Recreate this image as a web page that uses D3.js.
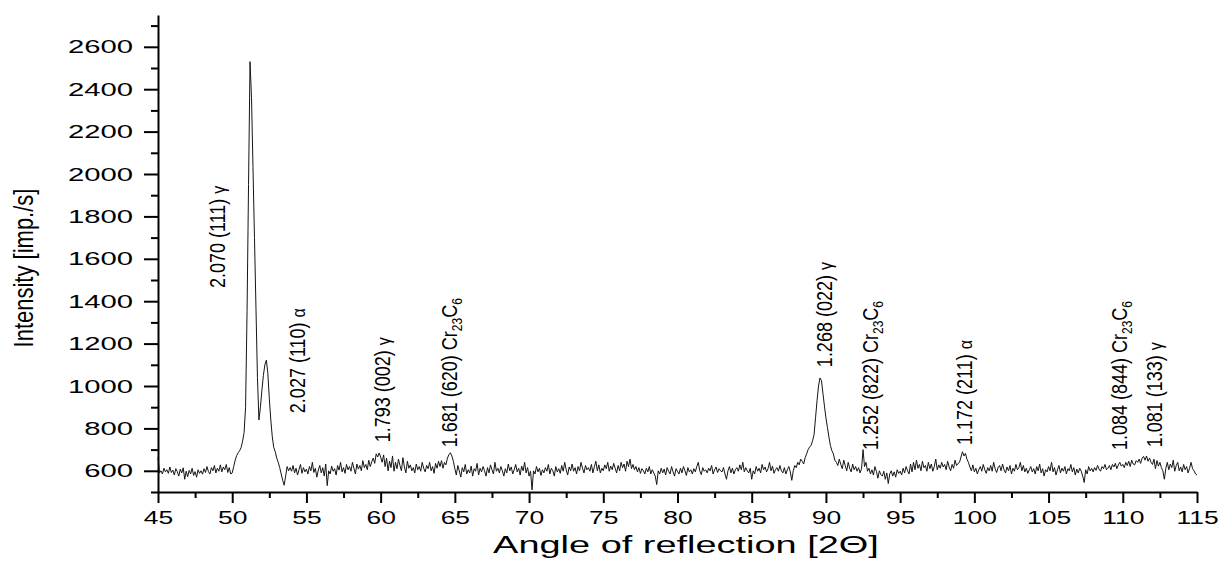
<!DOCTYPE html>
<html>
<head>
<meta charset="utf-8">
<script src="https://cdn.jsdelivr.net/npm/d3@7"></script>
<style>
body { margin: 0; background: #fff; }
text { font-family: "Liberation Sans", Arial, sans-serif; fill: #000; }
</style>
</head>
<body>
<div id="chart"></div>
<script>
// diffraction pattern, one reading every 0.1 deg from 45 to 115
const angleStart = 45
const angleStep = 0.1
const intensity = [
  665, 590, 600, 585, 612, 595, 605, 588, 618, 592,
  603, 580, 610, 596, 575, 608, 590, 614, 560, 598,
  572, 602, 585, 612, 578, 596, 570, 605, 588, 600,
  584, 610, 592, 620, 596, 585, 615, 600, 625, 590,
  612, 598, 628, 595, 618, 605, 630, 592, 615, 585,
  590, 620, 650, 672, 685, 695, 710, 740, 780, 900,
  1350, 1950, 2530, 2360, 2030, 1700, 1370, 1040, 840, 900,
  980, 1050, 1100, 1122, 1060, 940, 840, 760, 710, 690,
  660, 640, 615, 585, 555, 532, 575, 620, 600, 615,
  598, 625, 590, 612, 580, 605, 630, 588, 615, 595,
  608, 585, 620, 600, 640, 592, 612, 570, 603, 625,
  590, 615, 575, 632, 530, 600, 585, 622, 598, 610,
  580, 625, 603, 640, 595, 615, 588, 630, 605, 620,
  598, 640, 612, 585, 632, 608, 625, 600, 648, 615,
  630, 605, 650, 620, 642, 660, 635, 680, 665, 684,
  665, 640, 675, 620, 660, 600, 645, 615, 670, 598,
  640, 610, 655, 625, 600, 662, 618, 590, 645, 612,
  628, 600, 615, 590, 632, 605, 620, 598, 640, 612,
  595, 625, 610, 640, 600, 620, 588, 635, 612, 645,
  620, 648, 612, 640, 628, 660, 676, 685, 670, 645,
  610, 580, 625, 600, 570, 615, 595, 630, 585, 605,
  590, 622, 575, 610, 598, 635, 580, 612, 595, 620,
  600, 575, 615, 590, 628, 605, 585, 640, 598, 612,
  590, 620, 600, 575, 610, 590, 632, 600, 618, 585,
  605, 630, 595, 612, 580, 622, 600, 640, 590, 615,
  575, 598, 510, 600, 585, 620, 595, 612, 578, 605,
  590, 615, 598, 630, 585, 612, 600, 575, 620, 595,
  610, 588, 625, 598, 640, 605, 580, 618, 600, 632,
  598, 615, 585, 620, 600, 640, 612, 590, 625, 605,
  615, 598, 630, 590, 620, 645, 600, 628, 590, 612,
  600, 628, 610, 640, 598, 622, 605, 635, 612, 590,
  625, 600, 640, 615, 632, 598, 645, 620, 655, 610,
  630, 605, 620, 595, 615, 588, 610, 600, 585, 612,
  595, 620, 585, 605, 590, 575, 535, 600, 585, 612,
  590, 608, 580, 615, 598, 585, 620, 595, 575, 610,
  598, 585, 612, 590, 620, 600, 578, 615, 595, 605,
  585, 610, 595, 620, 640, 600, 582, 615, 598, 605,
  590, 612, 600, 625, 585, 605, 618, 592, 610, 600,
  595, 615, 585, 560, 600, 620, 590, 612, 585, 605,
  615, 598, 628, 605, 640, 595, 615, 600, 590, 612,
  560, 600, 585, 620, 598, 612, 590, 630, 605, 618,
  595, 610, 640, 600, 622, 588, 605, 615, 598, 625,
  600, 590, 615, 585, 605, 620, 595, 555, 600, 625,
  615, 640, 628, 655, 645, 632, 662, 680, 700, 712,
  720, 742, 770, 850, 930, 1000, 1038, 1025, 965, 905,
  850, 805, 760, 720, 695, 680, 650, 640, 625, 655,
  630, 610, 650, 625, 600, 640, 612, 595, 632, 605,
  620, 598, 615, 590, 610, 700, 620, 640, 598, 612,
  585, 605, 580, 620, 598, 565, 600, 582, 575, 598,
  560, 590, 540, 585, 600, 575, 595, 570, 605, 588,
  598, 580, 612, 590, 620, 600, 585, 632, 595, 640,
  605, 650, 612, 630, 600, 645, 615, 625, 598, 640,
  610, 632, 598, 620, 655, 605, 628, 612, 640, 618,
  630, 605, 645, 618, 600, 630, 612, 650, 625, 635,
  640, 665, 690, 670, 682, 655, 640, 618, 600, 628,
  595, 612, 585, 605, 620, 598, 630, 605, 588, 615,
  600, 625, 598, 640, 610, 592, 615, 625, 600, 632,
  605, 590, 618, 600, 625, 585, 612, 598, 630, 605,
  615, 640, 600, 625, 595, 612, 588, 605, 620, 595,
  610, 585, 620, 600, 632, 590, 610, 575, 605, 595,
  620, 600, 640, 595, 615, 580, 605, 625, 590, 612,
  598, 620, 585, 610, 600, 630, 595, 615, 580, 608,
  590, 612, 598, 575, 545, 605, 585, 620, 600, 612,
  595, 615, 602, 625, 608, 598, 620, 610, 630, 605,
  612, 625, 605, 630, 618, 635, 610, 628, 640, 622,
  630, 615, 640, 625, 645, 620, 650, 632, 628, 648,
  640, 655, 635, 660, 668, 650, 670, 645, 660, 640,
  630, 655, 610, 648, 622, 640, 615, 600, 560, 612,
  640, 605, 632, 615, 650, 598, 625, 640, 600, 618,
  595, 630, 605, 620, 590, 612, 640, 610, 600, 585,
  580
]

const xTicks = [45, 50, 55, 60, 65, 70, 75, 80, 85, 90, 95, 100, 105, 110, 115]
const xMinorTicks = [47.5, 52.5, 57.5, 62.5, 67.5, 72.5, 77.5, 82.5, 87.5, 92.5, 97.5, 102.5, 107.5, 112.5]
const yTicks = [600, 800, 1000, 1200, 1400, 1600, 1800, 2000, 2200, 2400, 2600]
const yMinorTicks = [500, 700, 900, 1100, 1300, 1500, 1700, 1900, 2100, 2300, 2500, 2700]

// d-spacing (hkl) phase, placed at angle / intensity of the label foot
const peakLabels = [
  { text: "2.070 (111) ", phase: "γ", angle: 49.49, intensity: 1462 },
  { text: "2.027 (110) ", phase: "α", angle: 54.88, intensity: 872 },
  { text: "1.793 (002) ", phase: "γ", angle: 60.61, intensity: 735 },
  { text: "1.681 (620) ", phase: "Cr23C6", angle: 65.13, intensity: 711 },
  { text: "1.268 (022) ", phase: "γ", angle: 90.39, intensity: 1089 },
  { text: "1.252 (822) ", phase: "Cr23C6", angle: 93.49, intensity: 698 },
  { text: "1.172 (211) ", phase: "α", angle: 99.83, intensity: 722 },
  { text: "1.084 (844) ", phase: "Cr23C6", angle: 110.27, intensity: 698 },
  { text: "1.081 (133) ", phase: "γ", angle: 112.63, intensity: 711 }
]

const data = intensity.map((v, i) => ({ angle: angleStart + i * angleStep, value: v }))

const width = 1222
const height = 562

const x = d3.scaleLinear()
    .domain([45, 115])
    .range([158, 1197])

const y = d3.scaleLinear()
    .domain([500, 2750])
    .range([492, 15])

const svg = d3.select("#chart")
    .append("svg")
    .attr("width", width)
    .attr("height", height)

const line = d3.line()
    .x(d => x(d.angle))
    .y(d => y(d.value))

svg.append("path")
    .datum(data)
    .attr("fill", "none")
    .attr("stroke", "#151515")
    .attr("stroke-width", 1)
    .attr("stroke-linejoin", "round")
    .attr("d", line)

// y axis
const yMinor = svg.append("g")
    .attr("transform", `translate(${x(45)},0)`)
    .call(d3.axisLeft(y).tickValues(yMinorTicks).tickSize(7).tickFormat("").tickSizeOuter(0))
yMinor.select(".domain").remove()
yMinor.selectAll("line").attr("stroke-width", 2)

const yAxis = svg.append("g")
    .attr("transform", `translate(${x(45)},0)`)
    .call(d3.axisLeft(y).tickValues(yTicks).tickSize(14).tickSizeOuter(0).tickFormat(d3.format("d")))
yAxis.selectAll("line, .domain").attr("stroke-width", 2)
yAxis.selectAll(".tick text")
    .attr("x", 0)
    .attr("transform", "translate(-25,0) scale(1.54,1)")
    .attr("text-anchor", "end")
    .style("font-size", "19px")

// x axis
const xMinor = svg.append("g")
    .attr("transform", `translate(0,${y(500)})`)
    .call(d3.axisBottom(x).tickValues(xMinorTicks).tickSize(6).tickFormat("").tickSizeOuter(0))
xMinor.select(".domain").remove()
xMinor.selectAll("line").attr("stroke-width", 2)

const xAxis = svg.append("g")
    .attr("transform", `translate(0,${y(500)})`)
    .call(d3.axisBottom(x).tickValues(xTicks).tickSize(11).tickSizeOuter(0).tickFormat(d3.format("d")))
xAxis.selectAll("line, .domain").attr("stroke-width", 2)
xAxis.selectAll(".tick text")
    .attr("y", 19)
    .attr("transform", "scale(1.47,1)")
    .style("font-size", "18px")

// axis titles
svg.append("g")
    .attr("transform", "translate(33,268) scale(1.26,1) rotate(-90)")
    .append("text")
    .attr("text-anchor", "middle")
    .style("font-size", "22px")
    .text("Intensity [imp./s]")

svg.append("g")
    .attr("transform", "translate(686,553) scale(1.65,1)")
    .append("text")
    .attr("text-anchor", "middle")
    .style("font-size", "23px")
    .text("Angle of reflection [2Θ]")

// peak labels
const labels = svg.selectAll("g.peak")
    .data(peakLabels)
    .join("g")
    .attr("class", "peak")
    .attr("transform", d => `translate(${x(d.angle)},${y(d.intensity)}) scale(1.2,1) rotate(-90)`)
    .append("text")
    .style("font-size", "18px")

labels.each(function(d) {
    const t = d3.select(this)
    t.append("tspan").text(d.text)
    if (d.phase === "Cr23C6") {
        t.append("tspan").text("Cr")
        t.append("tspan").attr("dy", 4).style("font-size", "12px").text("23")
        t.append("tspan").attr("dy", -4).text("C")
        t.append("tspan").attr("dy", 4).style("font-size", "12px").text("6")
    } else {
        t.append("tspan").style("font-size", "16px").text(d.phase)
    }
})
</script>
</body>
</html>
